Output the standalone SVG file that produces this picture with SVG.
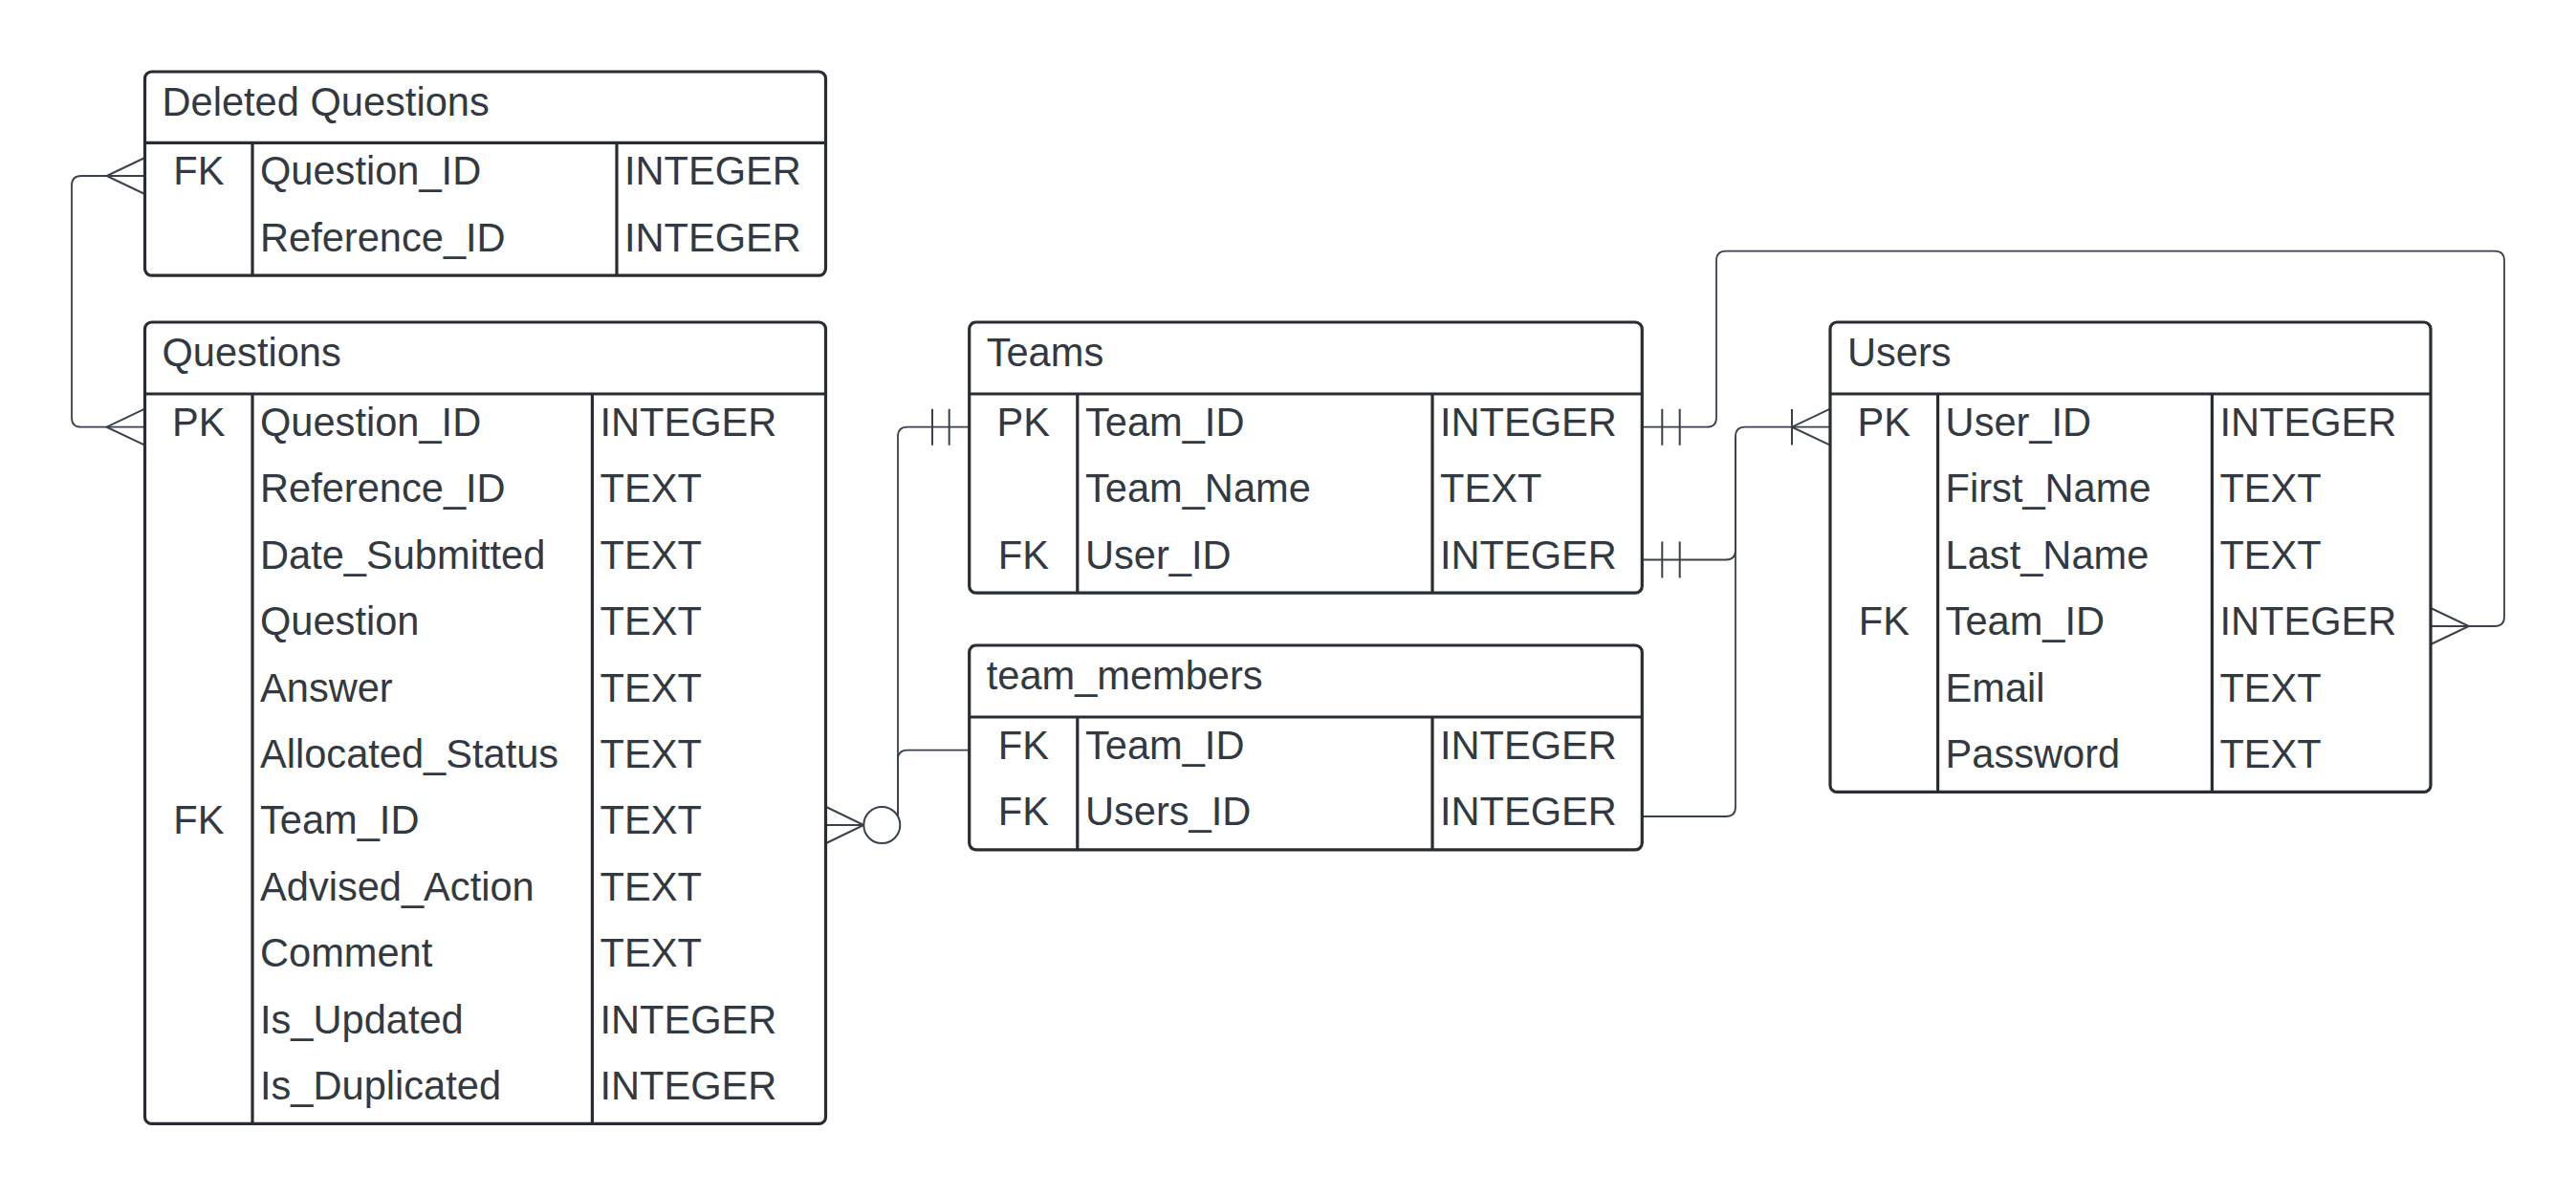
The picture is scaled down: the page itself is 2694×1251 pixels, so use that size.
<svg xmlns="http://www.w3.org/2000/svg" width="2694" height="1251" viewBox="0 0 2694 1251">
<style>
.box{fill:#ffffff;stroke:#282c33;stroke-width:3.2}
.ln{stroke:#282c33;stroke-width:3.2;fill:none}
.t{font-family:"Liberation Sans",Arial,sans-serif;font-size:41.6px;fill:#333941}
.k{text-anchor:middle}
.c{fill:none;stroke:#3a414a;stroke-width:1.8}
.m{fill:none;stroke:#3a414a;stroke-width:2}
.o{fill:#ffffff;stroke:#3a414a;stroke-width:2}
</style>
<rect width="2694" height="1251" fill="#ffffff"/>

<g id="connectors">
  <!-- Deleted Questions <-> Questions -->
  <path class="c" d="M151.5,184 L85,184 Q75,184 75,194 L75,436.7 Q75,446.7 85,446.7 L151.5,446.7"/>
  <path class="m" d="M151.5,165 L111.5,184 L151.5,203"/>
  <path class="m" d="M151.5,427.7 L111.5,446.7 L151.5,465.7"/>
  <!-- Questions Team_ID -> Teams / team_members -->
  <path class="c" d="M864,863 L939,863 L939,456.7 Q939,446.7 949,446.7 L1013.7,446.7"/>
  <path class="c" d="M1013.7,784.7 L949,784.7 Q939,784.7 939,794.7 L939,863"/>
  <path class="m" d="M975,427.7 L975,465.7 M992.7,427.7 L992.7,465.7"/>
  <path class="m" d="M864,844 L903.3,863 L864,882"/>
  <circle class="o" cx="922.3" cy="863" r="19"/>
  <!-- Teams Team_ID -> Users Team_ID -->
  <path class="c" d="M1717.3,446.7 L1785,446.7 Q1795,446.7 1795,436.7 L1795,272.6 Q1795,262.6 1805,262.6 L2609,262.6 Q2619,262.6 2619,272.6 L2619,645 Q2619,655 2609,655 L2542,655"/>
  <path class="m" d="M1738.3,427.7 L1738.3,465.7 M1756.7,427.7 L1756.7,465.7"/>
  <path class="m" d="M2542,636 L2582,655 L2542,674"/>
  <!-- Teams User_ID -> Users User_ID -->
  <path class="c" d="M1717.3,585.5 L1805,585.5 Q1815,585.5 1815,575.5 L1815,456.7 Q1815,446.7 1825,446.7 L1914,446.7"/>
  <path class="m" d="M1738.3,566.5 L1738.3,604.5 M1756.7,566.5 L1756.7,604.5"/>
  <!-- team_members Users_ID -> Users User_ID -->
  <path class="c" d="M1717.3,854 L1805,854 Q1815,854 1815,844 L1815,456.7"/>
  <path class="m" d="M1874,428 L1874,465.5 M1914,427.7 L1874,446.7 L1914,465.7"/>
</g>

<g id="deleted_questions">
  <rect class="box" x="151.5" y="75" width="712" height="213.1" rx="7"/>
  <path class="ln" d="M151.5,149.3 H863.5 M264,149.3 V288.1 M645,149.3 V288.1"/>
  <text class="t" x="169.5" y="121">Deleted Questions</text>
  <text class="t k" x="207.8" y="193.3">FK</text>
  <text class="t" x="272" y="193.3">Question_ID</text>
  <text class="t" x="653" y="193.3">INTEGER</text>
  <text class="t" x="272" y="262.7">Reference_ID</text>
  <text class="t" x="653" y="262.7">INTEGER</text>
</g>

<g id="questions">
  <rect class="box" x="151.5" y="337" width="712" height="838.4" rx="7"/>
  <path class="ln" d="M151.5,412 H863.5 M264,412 V1175.4 M619.4,412 V1175.4"/>
  <text class="t" x="169.5" y="383">Questions</text>
  <text class="t k" x="207.8" y="456">PK</text>
  <text class="t" x="272" y="456">Question_ID</text>
  <text class="t" x="627.5" y="456">INTEGER</text>
  <text class="t" x="272" y="525.4">Reference_ID</text>
  <text class="t" x="627.5" y="525.4">TEXT</text>
  <text class="t" x="272" y="594.8">Date_Submitted</text>
  <text class="t" x="627.5" y="594.8">TEXT</text>
  <text class="t" x="272" y="664.2">Question</text>
  <text class="t" x="627.5" y="664.2">TEXT</text>
  <text class="t" x="272" y="733.6">Answer</text>
  <text class="t" x="627.5" y="733.6">TEXT</text>
  <text class="t" x="272" y="803">Allocated_Status</text>
  <text class="t" x="627.5" y="803">TEXT</text>
  <text class="t k" x="207.8" y="872.4">FK</text>
  <text class="t" x="272" y="872.4">Team_ID</text>
  <text class="t" x="627.5" y="872.4">TEXT</text>
  <text class="t" x="272" y="941.8">Advised_Action</text>
  <text class="t" x="627.5" y="941.8">TEXT</text>
  <text class="t" x="272" y="1011.2">Comment</text>
  <text class="t" x="627.5" y="1011.2">TEXT</text>
  <text class="t" x="272" y="1080.6">Is_Updated</text>
  <text class="t" x="627.5" y="1080.6">INTEGER</text>
  <text class="t" x="272" y="1150">Is_Duplicated</text>
  <text class="t" x="627.5" y="1150">INTEGER</text>
</g>

<g id="teams">
  <rect class="box" x="1013.7" y="337" width="703.6" height="283.2" rx="7"/>
  <path class="ln" d="M1013.7,412 H1717.3 M1126.8,412 V620.2 M1498,412 V620.2"/>
  <text class="t" x="1031.7" y="383">Teams</text>
  <text class="t k" x="1070.3" y="456">PK</text>
  <text class="t" x="1135" y="456">Team_ID</text>
  <text class="t" x="1506" y="456">INTEGER</text>
  <text class="t" x="1135" y="525.4">Team_Name</text>
  <text class="t" x="1506" y="525.4">TEXT</text>
  <text class="t k" x="1070.3" y="594.8">FK</text>
  <text class="t" x="1135" y="594.8">User_ID</text>
  <text class="t" x="1506" y="594.8">INTEGER</text>
</g>

<g id="team_members">
  <rect class="box" x="1013.7" y="675" width="703.6" height="213.8" rx="7"/>
  <path class="ln" d="M1013.7,750 H1717.3 M1126.8,750 V888.8 M1498,750 V888.8"/>
  <text class="t" x="1031.7" y="721">team_members</text>
  <text class="t k" x="1070.3" y="794">FK</text>
  <text class="t" x="1135" y="794">Team_ID</text>
  <text class="t" x="1506" y="794">INTEGER</text>
  <text class="t k" x="1070.3" y="863.4">FK</text>
  <text class="t" x="1135" y="863.4">Users_ID</text>
  <text class="t" x="1506" y="863.4">INTEGER</text>
</g>

<g id="users">
  <rect class="box" x="1914" y="337" width="628" height="491.4" rx="7"/>
  <path class="ln" d="M1914,412 H2542 M2026.6,412 V828.4 M2313.4,412 V828.4"/>
  <text class="t" x="1932" y="383">Users</text>
  <text class="t k" x="1970.3" y="456">PK</text>
  <text class="t" x="2034.6" y="456">User_ID</text>
  <text class="t" x="2321.4" y="456">INTEGER</text>
  <text class="t" x="2034.6" y="525.4">First_Name</text>
  <text class="t" x="2321.4" y="525.4">TEXT</text>
  <text class="t" x="2034.6" y="594.8">Last_Name</text>
  <text class="t" x="2321.4" y="594.8">TEXT</text>
  <text class="t k" x="1970.3" y="664.2">FK</text>
  <text class="t" x="2034.6" y="664.2">Team_ID</text>
  <text class="t" x="2321.4" y="664.2">INTEGER</text>
  <text class="t" x="2034.6" y="733.6">Email</text>
  <text class="t" x="2321.4" y="733.6">TEXT</text>
  <text class="t" x="2034.6" y="803">Password</text>
  <text class="t" x="2321.4" y="803">TEXT</text>
</g>
</svg>
